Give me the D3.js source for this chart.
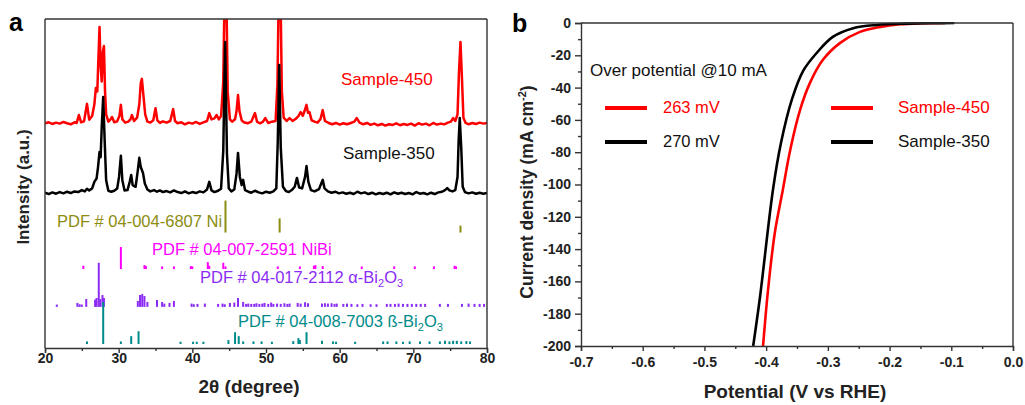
<!DOCTYPE html>
<html>
<head>
<meta charset="utf-8">
<script src="https://cdn.jsdelivr.net/npm/d3@7"></script>
<style>
body { margin: 0; background: #fff; }
text { font-family: Arial, "Liberation Sans", sans-serif; }
.tick text { font-weight: bold; font-size: 14px; fill: #222; }
.domain, .tick line { stroke: #333; stroke-width: 1.4; }
</style>
</head>
<body>
<div id="chart"></div>
<script>
// ---- panel a data: XRD patterns (2theta, intensity above offset, a.u.)
var red450 = [
[20.0,2.3],[20.5,2.6],[21.0,2.1],[21.5,2.5],[22.0,2.2],[22.5,2.7],[23.0,2.3],[23.5,2.0],[24.0,2.6],[24.3,2.4],[24.6,4.8],[24.9,2.6],[25.3,2.9],[25.7,8.2],[26.0,3.4],[26.4,4.5],[26.7,8.0],[26.9,13.0],[27.1,12.0],[27.25,22],[27.4,31.6],[27.55,20],[27.7,15],[27.85,24],[28.0,25.8],[28.15,12],[28.3,5],[28.6,2.8],[28.8,3.2],[29.1,4.2],[29.4,2.6],[29.8,2.9],[30.1,4.5],[30.3,7.9],[30.5,3.5],[30.9,2.5],[31.3,2.8],[31.6,3.5],[31.8,4.8],[32.1,3.0],[32.5,4.0],[32.8,8.0],[33.0,14.5],[33.15,15.8],[33.35,11],[33.6,5.0],[33.9,2.8],[34.3,2.5],[34.7,3.2],[35.0,6.9],[35.25,3.2],[35.6,2.4],[36.0,2.9],[36.5,2.5],[37.0,3.0],[37.4,6.6],[37.65,3.0],[38.0,2.3],[38.5,2.6],[39.0,2.0],[39.5,2.5],[40.0,2.2],[40.5,2.7],[41.0,2.1],[41.5,2.6],[42.0,3.0],[42.3,5.4],[42.6,3.5],[43.0,3.8],[43.3,4.8],[43.6,3.5],[43.9,4.5],[44.2,15],[44.4,45],[44.6,45],[44.8,12],[45.1,3.5],[45.4,2.8],[45.8,3.5],[46.0,6.0],[46.2,10.9],[46.4,6.0],[46.7,3.2],[47.0,2.6],[47.5,2.3],[48.0,2.8],[48.5,5.4],[48.8,2.7],[49.2,2.3],[49.6,2.8],[49.9,3.9],[50.3,2.4],[50.8,2.8],[51.3,3.0],[51.55,14],[51.75,45],[51.95,45],[52.15,12],[52.4,4.0],[52.8,3.0],[53.2,3.9],[53.6,3.0],[54.0,3.6],[54.4,4.5],[54.7,5.7],[55.0,4.6],[55.3,6.5],[55.5,7.9],[55.7,5.5],[55.9,5.7],[56.2,3.2],[56.6,2.8],[57.0,2.5],[57.4,3.6],[57.7,6.3],[58.0,3.0],[58.5,2.4],[59.0,2.0],[59.5,2.4],[60.0,1.9],[60.5,2.3],[61.0,2.0],[61.5,2.4],[62.0,2.8],[62.3,3.9],[62.7,2.5],[63.2,2.0],[63.7,2.4],[64.2,1.8],[64.7,2.2],[65.2,1.7],[65.7,2.1],[66.2,1.6],[66.7,2.0],[67.2,1.8],[67.7,2.3],[68.2,1.7],[68.7,2.1],[69.2,1.8],[69.7,2.2],[70.2,1.6],[70.7,2.3],[71.2,1.9],[71.7,2.2],[72.2,1.7],[72.7,2.4],[73.2,1.9],[73.7,2.2],[74.2,2.0],[74.7,2.5],[75.1,2.8],[75.4,3.9],[75.7,3.0],[76.0,5],[76.2,18],[76.4,27.0],[76.6,16],[76.8,4],[77.1,2.4],[77.5,2.0],[78.0,2.4],[78.5,2.1],[79.0,2.5],[79.5,2.2],[80.0,2.4]
];
var black350 = [
[20.0,2.2],[20.5,1.8],[21.0,2.3],[21.5,1.9],[22.0,2.4],[22.5,2.0],[23.0,2.5],[23.5,2.1],[24.0,2.6],[24.5,2.4],[25.0,3.0],[25.4,2.6],[25.7,3.4],[26.0,2.9],[26.4,3.5],[26.7,5.5],[27.0,6.5],[27.2,10],[27.4,14.6],[27.55,13],[27.7,22],[27.9,31.3],[28.1,18],[28.3,6],[28.6,2.8],[29.0,2.5],[29.4,2.8],[29.8,3.5],[30.05,7],[30.3,13.4],[30.5,6],[30.8,2.9],[31.2,3.0],[31.5,5.5],[31.7,7.6],[31.9,4.5],[32.3,4.0],[32.6,9],[32.8,12.8],[33.0,10],[33.3,8.2],[33.55,5],[33.9,3.2],[34.3,2.6],[34.8,3.0],[35.2,2.5],[35.6,2.9],[36.0,2.4],[36.5,2.7],[37.0,2.3],[37.5,2.9],[38.0,2.4],[38.5,2.1],[39.0,2.6],[39.5,2.0],[40.0,2.4],[40.5,2.1],[41.0,2.6],[41.5,2.3],[42.0,3.2],[42.3,5.5],[42.6,2.9],[43.0,2.4],[43.5,2.8],[43.9,3.4],[44.2,15],[44.45,48.0],[44.7,14],[44.95,3.5],[45.3,2.6],[45.7,3.2],[46.0,8],[46.2,14.3],[46.45,7],[46.7,4.5],[46.9,6.1],[47.15,3.0],[47.6,2.5],[48.0,2.2],[48.5,2.8],[49.0,2.3],[49.5,2.0],[50.0,2.5],[50.5,2.2],[51.0,2.6],[51.4,3.5],[51.6,18],[51.8,41.0],[52.0,16],[52.3,4.0],[52.7,2.7],[53.1,2.4],[53.5,3.0],[53.9,4.0],[54.2,6.7],[54.5,3.8],[54.9,3.5],[55.3,7.0],[55.5,10.3],[55.75,5.5],[56.1,3.0],[56.6,2.6],[57.2,3.3],[57.5,5.0],[57.7,6.1],[57.95,3.5],[58.4,2.6],[58.9,2.2],[59.4,2.5],[59.9,2.0],[60.4,2.3],[60.9,1.9],[61.4,2.2],[61.9,1.8],[62.4,2.5],[62.9,2.0],[63.4,2.3],[63.9,1.8],[64.4,2.2],[64.9,1.7],[65.4,2.1],[65.9,1.8],[66.4,2.2],[66.9,1.7],[67.4,2.3],[67.9,1.9],[68.4,2.2],[68.9,1.8],[69.4,2.1],[69.9,1.7],[70.4,2.4],[70.9,1.9],[71.4,2.1],[71.9,1.7],[72.4,2.2],[72.9,1.8],[73.4,2.3],[73.9,2.5],[74.3,3.0],[74.6,3.6],[74.9,2.9],[75.3,2.6],[75.7,3.0],[76.0,7],[76.15,18],[76.3,24.9],[76.5,16],[76.7,4],[77.0,2.4],[77.5,2.0],[78.0,2.3],[78.5,1.9],[79.0,2.2],[79.5,1.9],[80.0,2.1]
];
var offsets = { red: 66, black: 45, ni: 35.1, nibi: 24.0, alpha: 12.5, beta: 1.2 };

// reference cards: [2theta, relative height]
var pdfNi = [[44.5,9.7],[51.85,4.3],[76.4,2.1]];
var pdfNiBi = [[25.2,1.0],[30.3,6.7],[33.5,1.2],[33.7,0.9],[35.9,0.8],[37.5,0.8],[39.8,0.9],[40.0,0.8],[42.1,2.1],[42.3,1.0],[44.2,1.9],[44.5,0.8],[51.6,0.8],[54.6,0.8],[56.5,1.0],[56.7,1.2],[57.7,0.9],[63.0,0.8],[67.4,0.8],[70.2,0.8],[72.8,0.8],[75.6,1.0],[75.8,0.8]];
var pdfAlpha = [[21.6,0.7],[24.4,1.2],[24.7,0.8],[25.0,0.7],[25.6,2.4],[26.8,2.2],[27.0,2.7],[27.3,13.4],[27.5,2.4],[27.8,3.6],[28.0,2.7],[32.6,1.8],[32.9,3.6],[33.2,3.9],[33.5,3.3],[33.9,1.5],[35.2,2.1],[35.9,1.5],[36.2,1.0],[36.9,1.2],[37.5,1.8],[39.9,1.0],[40.2,0.8],[40.7,0.9],[41.7,1.0],[43.5,0.9],[44.1,1.0],[44.4,0.8],[45.1,1.2],[45.7,1.3],[46.2,2.7],[46.9,1.5],[47.3,0.9],[47.6,1.0],[48.0,0.9],[48.4,0.9],[48.7,1.1],[49.1,0.9],[49.5,1.0],[49.8,1.2],[50.3,0.9],[50.7,1.3],[51.0,0.9],[51.5,1.0],[52.0,0.9],[52.5,1.1],[52.9,0.9],[53.2,1.0],[54.3,1.2],[54.7,1.0],[55.3,1.4],[55.7,1.1],[57.6,1.0],[58.0,1.1],[58.4,1.0],[58.9,1.1],[59.3,0.9],[59.6,1.0],[60.5,0.9],[61.0,1.0],[61.6,0.9],[62.4,0.8],[63.1,0.9],[64.2,0.8],[65.0,0.8],[66.4,0.9],[66.9,0.9],[67.5,0.9],[68.0,1.0],[68.6,0.9],[69.2,0.9],[69.8,0.9],[70.4,0.9],[71.0,0.9],[71.6,0.9],[73.6,0.9],[74.7,0.9],[76.6,0.9],[77.5,1.0],[78.3,0.9],[79.0,0.9],[79.6,0.9]];
var pdfBeta = [[25.7,0.8],[27.9,12.8],[30.3,0.8],[31.7,2.4],[32.7,3.9],[38.4,0.7],[40.1,0.7],[40.6,0.7],[41.5,0.7],[44.9,1.2],[45.8,3.6],[46.3,2.4],[46.9,0.8],[48.3,0.8],[49.4,0.8],[50.8,0.7],[53.7,0.9],[54.4,1.8],[54.6,1.2],[55.5,3.6],[57.6,1.0],[59.1,0.8],[59.5,0.7],[62.1,0.7],[65.9,0.8],[66.5,0.8],[67.7,0.8],[68.6,0.7],[69.5,0.8],[70.9,0.8],[72.2,0.8],[73.6,0.8],[74.3,1.0],[74.9,0.8],[75.4,1.0],[75.9,1.0],[76.5,0.8],[77.2,0.9],[77.7,0.8]];

var xTicksA = [20,30,40,50,60,70,80];

// ---- panel b data: LSV curves (V vs RHE, mA cm-2)
var lsv450 = [[-0.405,-200],[-0.397,-165.5],[-0.386,-130],[-0.373,-103.4],[-0.361,-78.6],[-0.345,-53.8],[-0.329,-37.1],[-0.308,-22.8],[-0.280,-12.3],[-0.248,-5.5],[-0.215,-2.4],[-0.183,-0.8],[-0.150,-0.2],[-0.110,0]];
var lsv350 = [[-0.421,-200],[-0.410,-169.8],[-0.389,-103.4],[-0.376,-74.3],[-0.358,-47.0],[-0.340,-29.6],[-0.318,-18.5],[-0.292,-8.6],[-0.259,-3.2],[-0.220,-1.2],[-0.172,-0.4],[-0.130,-0.1],[-0.095,0]];
var xTicksB = [-0.7,-0.6,-0.5,-0.4,-0.3,-0.2,-0.1,0.0];
var yTicksB = [0,-20,-40,-60,-80,-100,-120,-140,-160,-180,-200];
var overpot = ["263 mV","270 mV"];
var sampleNames = ["Sample-450","Sample-350"];

var svg = d3.select("#chart").append("svg")
.attr("width", 1025)
.attr("height", 405);

// ===== panel a =====
var xA = d3.scaleLinear().domain([20, 80]).range([45, 487]);
var yA = d3.scaleLinear().domain([0, 100]).range([348, 19]);

svg.append("clipPath").attr("id", "clipA")
.append("rect").attr("x", 45).attr("y", 19).attr("width", 442).attr("height", 329);

var gA = svg.append("g").attr("clip-path", "url(#clipA)");

function pattern(data, off, color) {
    var line = d3.line()
    .x(function(d) { return xA(d[0]); })
    .y(function(d) { return yA(d[1] + off); });
    gA.append("path")
    .datum(data)
    .attr("d", line)
    .attr("fill", "none")
    .attr("stroke", color)
    .attr("stroke-width", 2.5)
    .attr("stroke-linejoin", "round");
}
pattern(red450, offsets.red, "#ff0000");
pattern(black350, offsets.black, "#000000");

function card(data, off, color) {
    gA.selectAll(null)
    .data(data)
    .enter().append("line")
    .attr("x1", function(d) { return xA(d[0]); })
    .attr("x2", function(d) { return xA(d[0]); })
    .attr("y1", yA(off))
    .attr("y2", function(d) { return yA(off + d[1]); })
    .attr("stroke", color)
    .attr("stroke-width", 2);
}
card(pdfNi, offsets.ni, "#8c8c10");
card(pdfNiBi, offsets.nibi, "#ff00ff");
card(pdfAlpha, offsets.alpha, "#8b2cf5");
card(pdfBeta, offsets.beta, "#008b8b");

// frame + axes
svg.append("line").attr("x1", 45).attr("x2", 487).attr("y1", 19).attr("y2", 19).attr("stroke", "#333").attr("stroke-width", 1.4);
svg.append("line").attr("x1", 487).attr("x2", 487).attr("y1", 19).attr("y2", 348).attr("stroke", "#333").attr("stroke-width", 1.4);
svg.append("line").attr("x1", 45).attr("x2", 45).attr("y1", 19).attr("y2", 348).attr("stroke", "#333").attr("stroke-width", 1.4);

svg.append("g")
.attr("transform", "translate(0,348)")
.call(d3.axisBottom(xA).tickValues(xTicksA).tickSize(5).tickPadding(0).tickFormat(d3.format("d")));
svg.append("g")
.attr("transform", "translate(0,348)")
.call(d3.axisBottom(xA).tickValues([25,35,45,55,65,75]).tickSize(3).tickFormat(""))
.select(".domain").remove();

svg.append("text").attr("x", 249).attr("y", 393).attr("text-anchor", "middle")
.attr("font-size", 19).attr("font-weight", "bold").attr("fill", "#222").text("2θ (degree)");
svg.append("text").attr("transform", "translate(29,187) rotate(-90)").attr("text-anchor", "middle")
.attr("font-size", 17).attr("font-weight", "bold").attr("fill", "#222").text("Intensity (a.u.)");
svg.append("text").attr("x", 9).attr("y", 31).attr("font-size", 25).attr("font-weight", "bold").text("a");

svg.append("text").attr("x", 341).attr("y", 85).attr("font-size", 17).attr("fill", "#ff0000").text(sampleNames[0]);
svg.append("text").attr("x", 343).attr("y", 159).attr("font-size", 17).attr("fill", "#111").text(sampleNames[1]);

svg.append("text").attr("x", 57).attr("y", 227).attr("font-size", 16.5).attr("fill", "#8c8c10").text("PDF # 04-004-6807 Ni");
svg.append("text").attr("x", 152).attr("y", 255).attr("font-size", 16.5).attr("fill", "#ff00ff").text("PDF # 04-007-2591 NiBi");
var ta = svg.append("text").attr("x", 200).attr("y", 283).attr("font-size", 16.5).attr("fill", "#8b2cf5");
ta.append("tspan").text("PDF # 04-017-2112 α-Bi");
ta.append("tspan").attr("font-size", 11).attr("dy", 4).text("2");
ta.append("tspan").attr("dy", -4).text("O");
ta.append("tspan").attr("font-size", 11).attr("dy", 4).text("3");
var tb = svg.append("text").attr("x", 238).attr("y", 327).attr("font-size", 16.5).attr("fill", "#008b8b");
tb.append("tspan").text("PDF # 04-008-7003 ß-Bi");
tb.append("tspan").attr("font-size", 11).attr("dy", 4).text("2");
tb.append("tspan").attr("dy", -4).text("O");
tb.append("tspan").attr("font-size", 11).attr("dy", 4).text("3");

// ===== panel b =====
var xB = d3.scaleLinear().domain([-0.7, 0]).range([581, 1013]);
var yB = d3.scaleLinear().domain([-200, 0]).range([346, 23]);

svg.append("clipPath").attr("id", "clipB")
.append("rect").attr("x", 581).attr("y", 22).attr("width", 432).attr("height", 325);
var gB = svg.append("g").attr("clip-path", "url(#clipB)");

var lsvLine = d3.line()
.x(function(d) { return xB(d[0]); })
.y(function(d) { return yB(d[1]); })
.curve(d3.curveCatmullRom.alpha(0.5));

gB.append("path").datum(lsv450).attr("d", lsvLine).attr("fill", "none").attr("stroke", "#ff0000").attr("stroke-width", 2.6);
gB.append("path").datum(lsv350).attr("d", lsvLine).attr("fill", "none").attr("stroke", "#000").attr("stroke-width", 2.6);

svg.append("line").attr("x1", 581).attr("x2", 1013).attr("y1", 23).attr("y2", 23).attr("stroke", "#333").attr("stroke-width", 1.4);
svg.append("line").attr("x1", 1013).attr("x2", 1013).attr("y1", 23).attr("y2", 346).attr("stroke", "#333").attr("stroke-width", 1.4);

svg.append("g")
.attr("transform", "translate(0,346)")
.call(d3.axisBottom(xB).tickValues(xTicksB).tickSize(5).tickPadding(6).tickFormat(function(d) { return d.toFixed(1); }));
svg.append("g")
.attr("transform", "translate(0,346)")
.call(d3.axisBottom(xB).tickValues([-0.65,-0.55,-0.45,-0.35,-0.25,-0.15,-0.05]).tickSize(3).tickFormat(""))
.select(".domain").remove();

svg.append("g")
.attr("transform", "translate(581,0)")
.call(d3.axisLeft(yB).tickValues(yTicksB).tickSize(6).tickPadding(4).tickFormat(function(d) { return String(d); }));
svg.append("g")
.attr("transform", "translate(581,0)")
.call(d3.axisLeft(yB).tickValues(d3.range(-190, 0, 20)).tickSize(3).tickFormat(""))
.select(".domain").remove();

svg.append("text").attr("x", 795).attr("y", 398).attr("text-anchor", "middle")
.attr("font-size", 19).attr("font-weight", "bold").attr("fill", "#222").text("Potential (V vs RHE)");
var yl = svg.append("text").attr("transform", "translate(533,192) rotate(-90)").attr("text-anchor", "middle")
.attr("font-size", 17.5).attr("font-weight", "bold").attr("fill", "#222");
yl.append("tspan").text("Current density (mA cm");
yl.append("tspan").attr("font-size", 11).attr("dy", -7).text("-2");
yl.append("tspan").attr("dy", 7).text(")");
svg.append("text").attr("x", 512).attr("y", 32).attr("font-size", 25).attr("font-weight", "bold").text("b");

// legends
svg.append("text").attr("x", 590).attr("y", 76).attr("font-size", 17).attr("fill", "#111").text("Over potential @10 mA");
var legColors = ["#ff0000", "#000000"];
var legY = [108, 142];
legColors.forEach(function(c, i) {
    svg.append("line").attr("x1", 605).attr("x2", 647).attr("y1", legY[i]).attr("y2", legY[i]).attr("stroke", c).attr("stroke-width", 4);
    svg.append("text").attr("x", 663).attr("y", legY[i] + 5).attr("font-size", 16.5).attr("fill", i ? "#111" : c).text(overpot[i]);
    svg.append("line").attr("x1", 831).attr("x2", 873).attr("y1", legY[i]).attr("y2", legY[i]).attr("stroke", c).attr("stroke-width", 4);
    svg.append("text").attr("x", 898).attr("y", legY[i] + 5).attr("font-size", 17).attr("fill", i ? "#111" : c).text(sampleNames[i]);
});
</script>
</body>
</html>
